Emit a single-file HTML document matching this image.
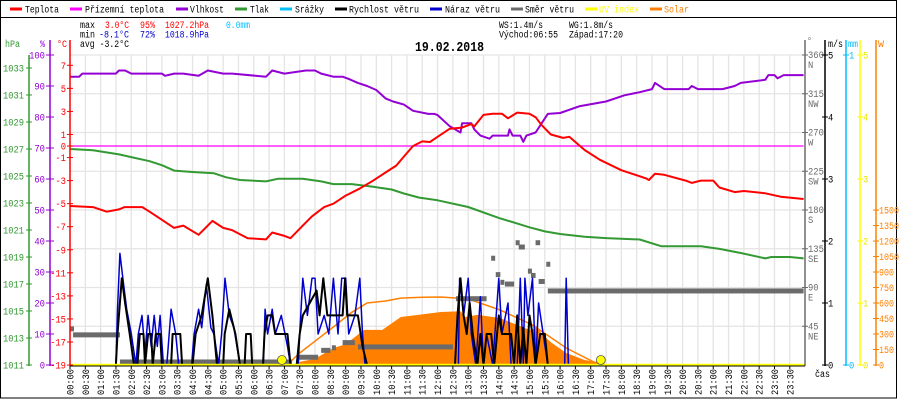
<!DOCTYPE html>
<html><head><meta charset="utf-8">
<style>
html,body{margin:0;padding:0;background:#fff;}
svg{display:block;font-family:"Liberation Mono",monospace;}
</style></head>
<body>
<svg id="chart" width="900" height="400" viewBox="0 0 900 400" xmlns="http://www.w3.org/2000/svg">
<rect x="0.5" y="0.5" width="896" height="397.5" fill="#fff" stroke="#000" stroke-width="1"/>
<line x1="0" y1="17.5" x2="897" y2="17.5" stroke="#000"/>
<g id="grid"></g>
<g id="marks"></g>
<g id="axes"></g>
<g id="legend"></g>
</svg>
<script>
// ---- data ----
const tempT=[0,0.75,1.2,1.6,1.78,2.36,2.6,3.0,3.4,3.7,4.2,4.65,5.0,5.3,5.8,6.4,6.6,7.0,7.2,7.6,7.9,8.3,8.6,9.0,9.45,9.9,10.3,10.65,10.97,11.2,11.5,11.75,12.0,12.4,12.8,13.1,13.2,13.5,13.8,14.1,14.3,14.6,15.0,15.2,15.4,15.7,16.1,16.3,16.8,17.3,18.0,18.8,18.9,19.1,19.4,20.1,20.3,20.6,21.0,21.2,21.7,22.0,22.7,23.2,23.95];
const tempV=[-5.2,-5.3,-5.7,-5.5,-5.3,-5.3,-5.7,-6.4,-7.1,-6.9,-7.7,-6.5,-7.1,-7.3,-8.0,-8.1,-7.5,-7.8,-8.0,-6.9,-6.1,-5.3,-5.0,-4.3,-3.7,-3.0,-2.3,-1.7,-0.7,0,0.4,0.35,0.8,1.5,1.6,1.9,1.7,2.7,2.8,2.8,2.4,2.9,2.8,2.5,1.8,1.0,0.7,0.8,-0.35,-1.2,-2.1,-2.8,-2.95,-2.4,-2.5,-3.0,-3.2,-3.0,-3.0,-3.6,-4.0,-3.9,-4.1,-4.4,-4.6];
const groundT=[0,23.95];
const groundV=[0,0];
const humT=[0,0.3,0.4,1.5,1.6,1.8,2.0,3.0,3.1,3.4,3.7,4.2,4.5,5.0,5.3,6.4,6.6,7.0,7.7,8.0,8.2,8.6,8.9,9.1,9.4,9.7,10.0,10.3,10.55,10.9,11.2,11.7,11.9,12.0,12.4,12.75,12.8,13.1,13.2,13.4,13.7,13.8,14.3,14.35,14.45,14.7,14.8,14.9,15.2,15.4,15.6,16.0,16.65,17.5,18.1,18.6,19.0,19.1,19.4,20.2,20.3,20.5,21.3,21.7,21.9,22.7,22.8,23.0,23.1,23.3,23.95];
const humV=[93,93,94,94,95,95,94,94,93.3,94,94,93.3,95,94,94,93,95,94,95,95,94,93,93,92.3,91,90,88.7,86,85,84,82,81,81,80.6,77,75,78,78,76,74,73,74,74,76,74,74,72,74,75,78,81,81.3,83.5,85,87,88,89,91,89,89,90,89,89,90,91,92,93.5,93.5,92.5,93.5,93.5];
const presT=[0,0.75,1.6,2.6,3.0,3.4,4.0,4.7,5.1,5.55,6.4,6.8,7.6,8.2,8.6,9.2,9.9,10.5,10.9,11.4,12.0,13.0,14.0,15.0,15.5,16.0,16.8,17.5,18.6,19.3,20.6,21.2,21.9,22.7,22.9,23.5,23.95];
const presV=[1027.0,1026.9,1026.6,1026.1,1025.8,1025.4,1025.3,1025.2,1024.9,1024.7,1024.6,1024.8,1024.8,1024.6,1024.4,1024.4,1024.2,1024.0,1023.7,1023.4,1023.2,1022.7,1021.9,1021.2,1020.9,1020.7,1020.5,1020.4,1020.3,1019.8,1019.8,1019.6,1019.3,1018.9,1019.0,1019.0,1018.9];
const windT=[1.5,1.55,1.69,1.8,1.95,2.09,2.2,2.28,2.4,2.45,2.55,2.65,2.7,2.8,2.94,3.0,3.3,3.35,3.6,3.66,4.0,4.1,4.3,4.5,4.65,4.8,5.0,5.05,5.2,5.4,5.55,5.7,5.75,5.9,5.95,6.3,6.35,6.45,6.6,6.7,7.1,7.2,7.4,7.5,7.6,8.05,8.15,8.27,8.4,8.9,8.98,9.05,9.4,9.55,9.7,12.57,12.65,12.75,12.85,12.95,13.05,13.15,13.3,13.4,13.5,13.6,13.75,13.85,14.0,14.1,14.4,14.5,14.6,14.7,14.8,14.9,15.0,15.1,15.2,15.35,15.5,15.6];
const windV=[0,0.5,1.4,1.0,0.5,0,0,0.5,0.5,0,0.5,0.5,0,0.5,0.5,0,0,0.5,0.5,0,0,0.5,0.8,1.4,0.8,0,0,0.5,0.9,0.5,0,0,0.5,0.5,0,0,0.5,0.8,0.8,0.5,0.5,0,0,0.5,0.8,1.2,0.8,1.4,0.8,0.8,1.4,0.8,0.8,0.3,0,0,0.8,1.4,0.8,0.5,1.0,0.5,0,0.5,0,0.5,0.5,0,0.8,0.5,0.5,0,0.8,0,0.6,0,0.8,0.5,0,0.5,0.5,0];
const gustT=[1.5,1.55,1.63,1.75,1.85,2.0,2.15,2.23,2.35,2.45,2.55,2.65,2.75,2.85,2.94,3.05,3.16,3.3,3.45,3.55,3.97,4.05,4.2,4.3,4.45,4.6,4.7,4.85,4.95,5.06,5.2,5.35,5.55,6.31,6.37,6.45,6.6,6.7,6.9,7.1,7.2,7.45,7.5,7.6,7.75,7.9,8.0,8.1,8.3,8.45,8.6,8.75,8.87,9.0,9.1,9.3,9.46,9.55,9.63,12.68,12.72,12.85,13.0,13.1,13.25,13.4,13.5,13.6,13.8,14.0,14.1,14.3,14.4,14.6,14.7,14.8,14.85,14.95,15.1,15.2,15.3,15.45,15.6,16.15,16.2,16.27];
const gustV=[0,0.9,1.8,1.3,0.9,0.5,0,0.5,0.8,0.2,0.8,0.3,0.8,0.3,0.8,0,0,0.9,0.5,0,0,0.5,0.9,0.6,1.3,0.6,0.5,0,0.5,1.4,0.8,0.6,0,0,0.9,0.5,0.9,0.5,0.8,0.3,0,0,0.5,1.4,0.8,1.4,1.4,0.5,0.8,0.5,1.4,0.5,1.4,1.4,0.5,0.8,1.4,0.5,0,0,1.4,0.8,1.4,0.5,0,1.1,0,0.5,0,1.4,0.5,1.0,0,0,1.4,0,1.4,0.8,1.4,0,1.0,0.5,0,0,1.4,0];
const dirStart=[0,0.1,1.63,7.4,8.2,8.55,8.9,9.4,12.6,13.75,13.9,14.05,14.2,14.55,14.65,14.95,15.05,15.2,15.3,15.55,15.6];
const dirEnd=[0.1,1.63,7.25,8.1,8.5,8.65,9.3,12.5,13.6,13.85,14.05,14.15,14.5,14.65,14.85,15.05,15.2,15.35,15.5,15.65,23.95];
const dirDeg=[42,35,3.5,9,17,20,26,21,77,124,105,96,94,142,137,109,104,142,97,117,86];
const solT=[7.25,7.5,8,8.6,9,9.6,10.2,10.8,11.5,12.1,12.75,12.9,13.3,14.04,14.6,15.0,15.1,15.25,15.4,15.7,16.2,16.8,17.3,17.6];
const solW=[0,30,60,165,200,340,340,465,490,513,520,465,485,455,387,340,340,380,300,220,116,48,20,0];
const theoT=[7.08,7.5,8,8.6,9.2,9.7,10.3,10.8,11.5,12.1,13,14.04,15.1,16.2,17.1,17.5];
const theoW=[0,116,230,368,510,600,620,648,655,658,640,532,387,165,29,0];
const uvT=[6.92,17.33];
const uvV=[0,0];
const hpaTicks=[1011,1013,1015,1017,1019,1021,1023,1025,1027,1029,1031,1033];
const humTicks=[0,10,20,30,40,50,60,70,80,90,100];
const tempTicks=[7,5,3,1,0,-1,-3,-5,-7,-9,-11,-13,-15,-17,-19];
const dirTicks=[360,315,270,225,180,135,90,45];
const dirNames=["N","NW","W","SW","S","SE","E","NE"];
const msTicks=[0,1,2,3,4,5];
const uvTicks=[0,1,2,3,4,5];
const wTicks=[0,150,300,450,600,750,900,1050,1200,1350,1500];

// ---- scales ----
const X=h=>70+h*30.63;
const YT=t=>146-t*11.53;
const YH=p=>365-p*3.1;
const YP=p=>365-(p-1011)*13.5;
const YW=v=>365-v*62;
const YD=d=>365-d*310/360;
const YS=w=>365-w*0.1033;
const YU=u=>365-u*62;

const NS="http://www.w3.org/2000/svg";
const G=id=>document.getElementById(id);
function mk(parent,tag,attrs){const e=document.createElementNS(NS,tag);for(const k in attrs)e.setAttribute(k,attrs[k]);G(parent).appendChild(e);return e;}
function txt(parent,x,y,s,fill,len,extra){const e=mk(parent,"text",Object.assign({x:x,y:y,fill:fill,"font-size":10},extra||{}));if(len){e.setAttribute("textLength",len);e.setAttribute("lengthAdjust","spacingAndGlyphs");}e.textContent=s;return e;}
function pts(ts,vs,fx,fy){return ts.map((t,i)=>fx(t).toFixed(1)+","+fy(vs[i]).toFixed(1)).join(" ");}

// ---- grid ----
for(let k=1;k<48;k++){
  const l=mk("grid","line",{x1:X(k/2),x2:X(k/2),y1:55,y2:365,stroke:"#e6e3e3","stroke-width":1.3});
  
  
}
for(let k=0;k<8;k++){
  const y=55+k*38.75;
  const l=mk("grid","line",{x1:70,x2:805,y1:y,y2:y,stroke:"#e6e3e3","stroke-width":1.3});
  
  
}

// ---- solar ----
{
  const p="M"+X(solT[0])+","+YS(0)+" L"+pts(solT,solW,X,YS)+" L"+X(solT[solT.length-1])+","+YS(0)+"Z";
  const a=mk("marks","path",{d:p,fill:"#ff8000",stroke:"none"});
  
  
  const th=mk("marks","polyline",{points:pts(theoT,theoW,X,YS),fill:"none",stroke:"#ff8000","stroke-width":1.5});
  
  
}
// ---- wind direction ----
for(let i=0;i<dirDeg.length;i++){
  const r=mk("marks","rect",{x:X(dirStart[i]),y:YD(dirDeg[i])-2.5,width:Math.max(4,X(dirEnd[i])-X(dirStart[i])),height:5,fill:"#6b6b6b"});
  
  
}
// ---- lines ----
function line(ts,vs,fy,color,w){
  return mk("marks","polyline",{points:pts(ts,vs,X,fy),fill:"none",stroke:color,"stroke-width":w,"stroke-linejoin":"round"});
}
let ln;
ln=line(gustT,gustV,YW,"#0000cc",1.5);


ln=line(windT,windV,YW,"#000000",2);


ln=line(presT,presV,YP,"#339933",2);


ln=line(groundT,groundV,YT,"#ff00ff",1.3);


ln=line(humT,humV,YH,"#9400d3",2);


ln=line(tempT,tempV,YT,"#ff0000",2);


{
  const l=mk("marks","line",{x1:70,x2:805,y1:365,y2:365,stroke:"#ffff00","stroke-width":2.5});
  
  
}
for(let i=0;i<uvT.length;i++){
  const c=mk("marks","circle",{cx:X(uvT[i]),cy:YU(uvV[i])-5,r:4.5,fill:"#ffff00",stroke:"#555","stroke-width":0.8});
  
  
}

// ---- axes ----
function vline(x,y1,y2,c){return mk("axes","line",{x1:x,x2:x,y1:y1,y2:y2,stroke:c,"stroke-width":1.5});}
let ax;
ax=vline(29,55,366,"#339933");


ax=vline(50,40,366,"#9400d3");


ax=vline(70,40,366,"#ff0000");


ax=vline(805,40,366,"#6b6b6b");


ax=vline(825,40,366,"#000");


ax=vline(846,40,366,"#00bfff");


ax=vline(860,40,366,"#ffff00");


ax=vline(876,40,366,"#ff8000");


{
  const l=mk("axes","line",{x1:70,x2:805,y1:366,y2:366,stroke:"#000","stroke-width":1});
  
  
}
function tick(x1,x2,y,c){return mk("axes","line",{x1:x1,x2:x2,y1:y,y2:y,stroke:c,"stroke-width":1});}
hpaTicks.forEach(v=>{const y=YP(v);
  const t=tick(26,32,y,"#339933");
  
  
  const s=txt("axes",3,y+3.5,String(v),"#339933",21);
  
  });
humTicks.forEach(v=>{const y=YH(v);
  const t=tick(46,54,y,"#9400d3");
  
  
  const s=txt("axes",45,y+3.5,String(v),"#9400d3",String(v).length*5.3,{"text-anchor":"end"});
  
  });
tempTicks.forEach(v=>{const y=YT(v);
  const t=tick(67,73,y,"#ff0000");
  
  
  const s=txt("axes",66,y+3.5,String(v),"#ff0000",String(v).length*5.3,{"text-anchor":"end"});
  
  });
dirTicks.forEach((v,i)=>{const y=YD(v);
  const t=tick(802,808,y,"#6b6b6b");
  
  
  const s=txt("axes",808,y+3,String(v),"#6b6b6b",String(v).length*5.3);
  
  
  const n=txt("axes",808,y+13,dirNames[i],"#6b6b6b",dirNames[i].length*5.3);
  
  });
msTicks.forEach(v=>{const y=YW(v);
  const t=tick(822,828,y,"#000");
  
  
  const s=txt("axes",828,y+3.5,String(v),"#000",5.3);
  
  });
{
  const t=tick(843,849,YW(0),"#00bfff");
  
  
  const t2=tick(843,849,55,"#00bfff");
  
  
  const s=txt("axes",849,368.5,"0","#00bfff",5.3);
  
  
  const s2=txt("axes",849,58.5,"1","#00bfff",5.3);
  
  
}
uvTicks.forEach(v=>{const y=YU(v);
  const t=tick(857,863,y,"#ffff00");
  
  
  const s=txt("axes",863,y+3.5,String(v),"#e6e600",5.3);
  
  });
wTicks.forEach(v=>{const y=YS(v);
  const t=tick(873,879,y,"#ff8000");
  
  
  const s=txt("axes",879,y+3.5,String(v),"#ff8000",String(v).length*5);
  
  });
for(let k=0;k<48;k++){
  const x=X(k/2);
  const t=mk("axes","line",{x1:x,x2:x,y1:366,y2:369,stroke:"#000","stroke-width":1});
  
  
  const hh=String(Math.floor(k/2)).padStart(2,"0")+":"+(k%2?"30":"00");
  const s=txt("axes",x+3.5,395,hh,"#000",26,{transform:"rotate(-90 "+(x+3.5)+" 395)"});
  
  
}
[[5,47,"hPa","#339933",15,"pressure-axis-title"],[40,47,"%","#9400d3",5,"humidity-axis-title"],[57,47,"°C","#ff0000",10,"temperature-axis-title"],
 [807,44,"°","#6b6b6b",5,"direction-axis-title"],[828,47,"m/s","#000",15,"wind-speed-axis-title"],[848,47,"mm","#00bfff",10,"rain-axis-title"],[878,47,"W","#ff8000",6,"solar-axis-title"],[815,377,"čas","#000",15,"x-axis-title"]]
.forEach(a=>{const s=txt("axes",a[0],a[1],a[2],a[3],a[4]);
  
  });

// ---- legend ----
const legItems=[[10,25,34,"Teplota","#ff0000"],[70,85,79,"Přízemní teplota","#ff00ff"],[176,190,34,"Vlhkost","#9400d3"],[235,250,19,"Tlak","#339933"],[280,295,29,"Srážky","#00bfff"],[335,349,70,"Rychlost větru","#000000"],[430,445,55,"Náraz větru","#0000cc"],[511,525,49,"Směr větru","#6b6b6b"],[585,599,40,"UV index","#ffff00"],[650,664,25,"Solar","#ff8000"]];
legItems.forEach(it=>{
  const d=mk("legend","line",{x1:it[0],x2:it[0]+12,y1:9,y2:9,stroke:it[4],"stroke-width":3});
  
  
  const col=(it[4]==="#ffff00"||it[4]==="#ff8000")?it[4]:"#000";
  const s=txt("legend",it[1],12.5,it[3],col,it[2]);
  
  
});
[[80,28,"max","#000",15],[105,28,"3.0°C","#ff0000",24],[140,28,"95%","#ff0000",15],[165,28,"1027.2hPa","#ff0000",44],[226,28,"0.0mm","#00bfff",24],
 [80,37.5,"min","#000",15],[99,37.5,"-8.1°C","#0000cc",30],[140,37.5,"72%","#0000cc",15],[165,37.5,"1018.9hPa","#0000cc",44],
 [80,47,"avg -3.2°C","#000",49],
 [499,28,"WS:1.4m/s","#000",44],[569,28,"WG:1.8m/s","#000",44],[499,37.5,"Východ:06:55","#000",59],[569,37.5,"Západ:17:20","#000",54]]
.forEach(a=>{const s=txt("legend",a[0],a[1],a[2],a[3],a[4]);
  
  });
{
  const s=txt("legend",415,51,"19.02.2018","#000",69,{"font-size":14,"font-weight":"bold"});
  
  
}
</script>
</body></html>
